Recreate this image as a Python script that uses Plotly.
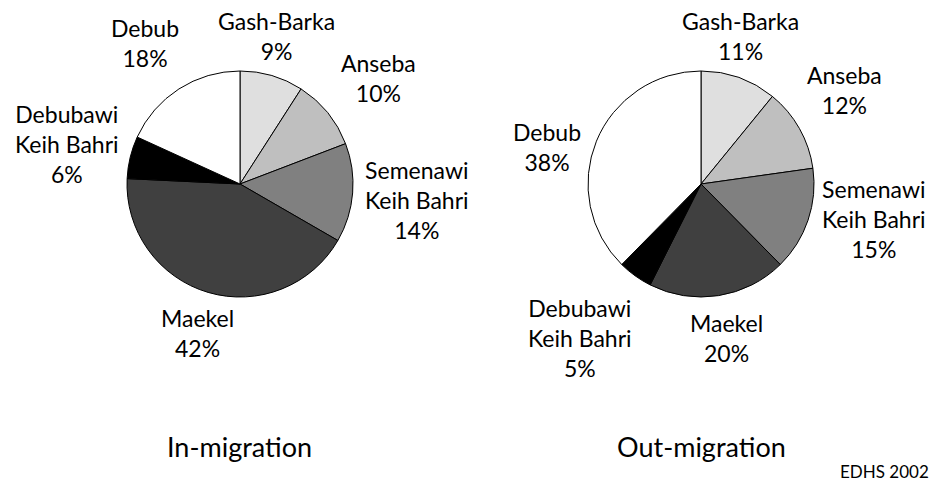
import math
import plotly.graph_objects as go

regions = ["Gash-Barka", "Anseba", "Semenawi<br>Keih Bahri", "Maekel",
           "Debubawi<br>Keih Bahri", "Debub"]
in_migration = [9, 10, 14, 42, 6, 18]
out_migration = [11, 12, 15, 20, 5, 38]
colors = ["#dfdfdf", "#bfbfbf", "#808080", "#404040", "#000000", "#ffffff"]
titles = ["In-migration", "Out-migration"]
source = "EDHS 2002"

# style: label placement (distance from pie centre in px, angular nudge in deg)
label_dist = [[152, 174, 178, 155, 177, 170], [153, 172, 176, 156, 196, 158]]
label_nudge = [[-2.5, 1.6, 0.6, -0.6, -0.7, -1.3], [-4.8, -3.9, -7.3, -0.5, 2.6, -8.6]]

FONT = "Lato"
W, H = 933, 481
R = 113
centers = [(240, 184), (701, 184)]

fig = go.Figure()
for k, vals in enumerate([in_migration, out_migration]):
    cx, cy = centers[k]
    dom = dict(x=[(cx - R) / W, (cx + R) / W], y=[1 - (cy + R) / H, 1 - (cy - R) / H])
    fig.add_trace(go.Pie(
        labels=regions, values=vals, sort=False, direction="clockwise",
        rotation=0, domain=dom,
        marker=dict(colors=colors, line=dict(color="black", width=1)),
        textinfo="none", hoverinfo="skip", showlegend=False,
    ))
    total = sum(vals)
    cum = 0
    for i, (lab, v) in enumerate(zip(regions, vals)):
        mid = (cum + v / 2) / total * 360 + label_nudge[k][i]
        cum += v
        th = math.radians(mid)
        d = label_dist[k][i]
        px = cx + d * math.sin(th)
        py = cy - d * math.cos(th)
        fig.add_annotation(text=f"{lab}<br>{v}%", x=px / W, y=1 - py / H,
                           xref="paper", yref="paper", showarrow=False,
                           xanchor="center", yanchor="middle", align="center",
                           font=dict(family=FONT, size=23, color="black"))

for t, (cx, cy) in zip(titles, centers):
    fig.add_annotation(text=t, x=cx / W, y=1 - 446 / H, xref="paper", yref="paper",
                       showarrow=False, xanchor="center", yanchor="middle",
                       font=dict(family=FONT, size=27, color="black"))
fig.add_annotation(text=source, x=931 / W, y=1 - 471 / H, xref="paper", yref="paper",
                   showarrow=False, xanchor="right", yanchor="middle",
                   font=dict(family=FONT, size=17, color="black"))

fig.update_layout(width=W, height=H, margin=dict(l=0, r=0, t=0, b=0),
                  paper_bgcolor="white", plot_bgcolor="white")
fig.write_html("out.html", config={"displayModeBar": False},
               post_script="document.body.style.margin='0';"
                           "document.body.style.overflow='hidden';")
